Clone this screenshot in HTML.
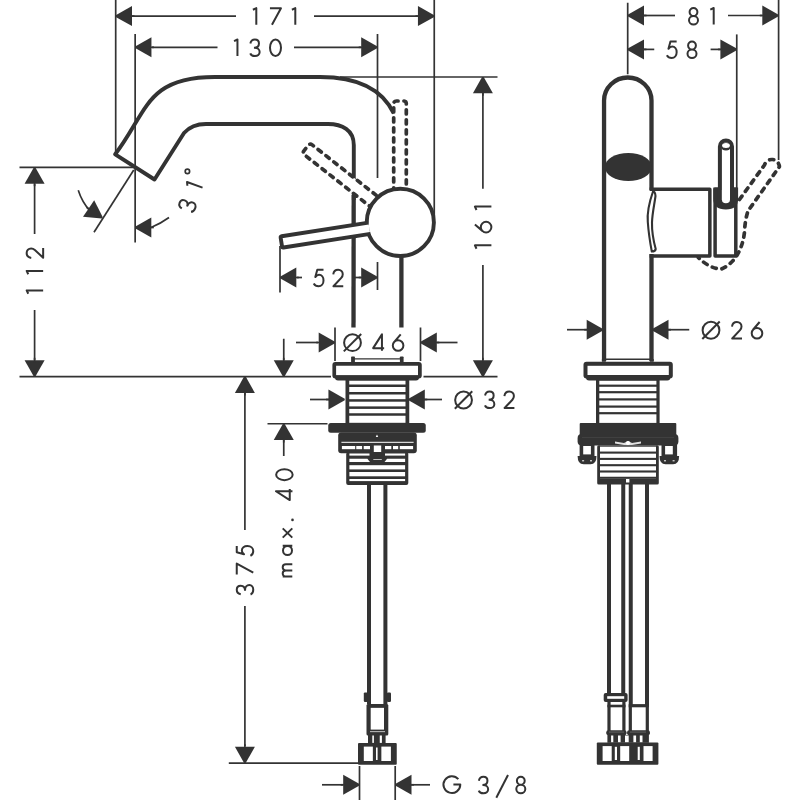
<!DOCTYPE html>
<html><head><meta charset="utf-8"><style>
html,body{margin:0;padding:0;background:#fff;width:800px;height:800px;overflow:hidden}
svg{display:block}
text{font-family:"Liberation Sans",sans-serif;fill:#333;stroke:none}
</style></head><body>
<svg width="800" height="800" viewBox="0 0 800 800">
<rect x="0" y="0" width="800" height="800" fill="#fff"/>
<g stroke="#333" fill="none" stroke-linecap="butt" stroke-linejoin="round">
<line x1="115.7" y1="0" x2="115.7" y2="153" stroke-width="1.7"/>
<line x1="434.25" y1="0" x2="434.25" y2="220" stroke-width="1.7"/>
<polygon fill="#333" stroke="none" points="115.70,15.30 115.70,16.90 132.00,26.10 132.00,6.10"/>
<line x1="130.00" y1="16.10" x2="134.50" y2="16.10" stroke-width="1.7"/>
<polygon fill="#333" stroke="none" points="434.25,16.90 434.25,15.30 417.95,6.10 417.95,26.10"/>
<line x1="419.95" y1="16.10" x2="415.45" y2="16.10" stroke-width="1.7"/>
<line x1="132" y1="16.1" x2="236" y2="16.1" stroke-width="1.7"/>
<line x1="314" y1="16.1" x2="418" y2="16.1" stroke-width="1.7"/>
<path transform="translate(254.6,16.4) translate(-2.7,-9.25)" d="M1,2.6 L4.4,1 L4.4,17.5" fill="none" stroke-width="2" stroke-linejoin="round"/>
<path transform="translate(275.45,16.4) translate(-6.5,-9.25)" d="M1,1 L12,1 L3,17.5" fill="none" stroke-width="2" stroke-linejoin="round"/>
<path transform="translate(293.6,16.4) translate(-2.7,-9.25)" d="M1,2.6 L4.4,1 L4.4,17.5" fill="none" stroke-width="2" stroke-linejoin="round"/>
<line x1="135.15" y1="34" x2="135.15" y2="242.5" stroke-width="1.7"/>
<line x1="377.5" y1="34" x2="377.5" y2="178" stroke-width="1.7"/>
<polygon fill="#333" stroke="none" points="135.15,46.50 135.15,48.10 151.45,57.30 151.45,37.30"/>
<line x1="149.45" y1="47.30" x2="153.95" y2="47.30" stroke-width="1.7"/>
<polygon fill="#333" stroke="none" points="377.50,48.10 377.50,46.50 361.20,37.30 361.20,57.30"/>
<line x1="363.20" y1="47.30" x2="358.70" y2="47.30" stroke-width="1.7"/>
<line x1="152" y1="47.3" x2="217.5" y2="47.3" stroke-width="1.7"/>
<line x1="294" y1="47.3" x2="361" y2="47.3" stroke-width="1.7"/>
<path transform="translate(235.75,47.75) translate(-2.7,-9.25)" d="M1,2.6 L4.4,1 L4.4,17.5" fill="none" stroke-width="2" stroke-linejoin="round"/>
<path transform="translate(255,47.75) translate(-5.65,-9.25)" d="M1,5 C1.5,2.5 3.2,1 5.5,1 C7.9,1 9.6,2.7 9.6,5 C9.6,7.6 7.6,9.3 4.6,9.3 M5.2,9.3 C8.2,9.3 10.3,11.1 10.3,13.6 C10.3,15.9 8.3,17.5 5.6,17.5 C3.3,17.5 1.5,16.4 0.9,14.8" fill="none" stroke-width="2" stroke-linejoin="round"/>
<path transform="translate(275.5,47.75) translate(-6.5,-9.25)" d="M1.0,9.25 A5.5,8.25 0 1 0 12.0,9.25 A5.5,8.25 0 1 0 1.0,9.25 Z" fill="none" stroke-width="2" stroke-linejoin="round"/>
<line x1="19.5" y1="167.4" x2="135" y2="167.4" stroke-width="1.7"/>
<line x1="19.5" y1="376.6" x2="331" y2="376.6" stroke-width="1.7"/>
<polygon fill="#333" stroke="none" points="35.40,167.40 33.80,167.40 24.60,183.70 44.60,183.70"/>
<line x1="34.60" y1="181.70" x2="34.60" y2="186.20" stroke-width="1.7"/>
<polygon fill="#333" stroke="none" points="33.80,376.60 35.40,376.60 44.60,360.30 24.60,360.30"/>
<line x1="34.60" y1="362.30" x2="34.60" y2="357.80" stroke-width="1.7"/>
<line x1="34.6" y1="184" x2="34.6" y2="234" stroke-width="1.7"/>
<line x1="34.6" y1="310" x2="34.6" y2="360" stroke-width="1.7"/>
<path transform="translate(34.9,292.1) rotate(-90) translate(-2.7,-9.25)" d="M1,2.6 L4.4,1 L4.4,17.5" fill="none" stroke-width="2" stroke-linejoin="round"/>
<path transform="translate(34.9,272.6) rotate(-90) translate(-2.7,-9.25)" d="M1,2.6 L4.4,1 L4.4,17.5" fill="none" stroke-width="2" stroke-linejoin="round"/>
<path transform="translate(34.9,252.9) rotate(-90) translate(-6.0,-9.25)" d="M1,5.6 C1.4,2.7 3.4,1 5.9,1 C8.5,1 10.5,2.9 10.5,5.5 C10.5,7 9.9,8.2 9,9.2 L1.2,17.5 L11,17.5" fill="none" stroke-width="2" stroke-linejoin="round"/>
<line x1="133.75" y1="170" x2="94" y2="232.3" stroke-width="1.7"/>
<path d="M78.25,190.3 Q82,202 90,211" stroke-width="1.7" fill="none" />
<polygon fill="#333" stroke="none" points="101.85,218.46 102.75,217.14 94.21,200.28 83.03,216.86"/>
<line x1="90.28" y1="209.69" x2="86.55" y2="207.18" stroke-width="1.7"/>
<path d="M151,227.5 Q160,224 169,217.5" stroke-width="1.7" fill="none" />
<polygon fill="#333" stroke="none" points="135.00,226.70 135.00,228.30 151.30,237.50 151.30,217.50"/>
<line x1="149.30" y1="227.50" x2="153.80" y2="227.50" stroke-width="1.7"/>
<path transform="translate(187.4,205.5) rotate(-70) translate(-5.65,-9.25)" d="M1,5 C1.5,2.5 3.2,1 5.5,1 C7.9,1 9.6,2.7 9.6,5 C9.6,7.6 7.6,9.3 4.6,9.3 M5.2,9.3 C8.2,9.3 10.3,11.1 10.3,13.6 C10.3,15.9 8.3,17.5 5.6,17.5 C3.3,17.5 1.5,16.4 0.9,14.8" fill="none" stroke-width="2" stroke-linejoin="round"/>
<path transform="translate(194.2,186.4) rotate(-70) translate(-2.7,-9.25)" d="M1,2.6 L4.4,1 L4.4,17.5" fill="none" stroke-width="2" stroke-linejoin="round"/>
<circle cx="187.4" cy="171.4" r="2.2" fill="none" stroke-width="1.7"/>
<path d="M393.8,113.5 C385.2,95.3 366.5,77 320,77 L214.9,77 C145.8,77 147.6,111.9 115.2,154.3 L154.5,179.5 L184,133 Q192,124 206,124 L328,124 C342,124 353.8,130 353.8,145 L353.8,200" stroke-width="3.9" fill="none" />
<path d="M353.7,195 L353.5,327.5" stroke-width="4.3" fill="none" />
<line x1="340" y1="77" x2="497.5" y2="77" stroke-width="1.7"/>
<path d="M401.4,250 L401.4,327.5" stroke-width="4.3" fill="none" />
<polygon fill="#333" stroke="none" points="483.70,77.00 482.10,77.00 472.90,93.30 492.90,93.30"/>
<line x1="482.90" y1="91.30" x2="482.90" y2="95.80" stroke-width="1.7"/>
<polygon fill="#333" stroke="none" points="482.10,376.60 483.70,376.60 492.90,360.30 472.90,360.30"/>
<line x1="482.90" y1="362.30" x2="482.90" y2="357.80" stroke-width="1.7"/>
<line x1="482.9" y1="93" x2="482.9" y2="188.75" stroke-width="1.7"/>
<line x1="482.9" y1="265" x2="482.9" y2="360" stroke-width="1.7"/>
<line x1="423.5" y1="376.6" x2="497.5" y2="376.6" stroke-width="1.7"/>
<path transform="translate(483.15,247) rotate(-90) translate(-2.7,-9.25)" d="M1,2.6 L4.4,1 L4.4,17.5" fill="none" stroke-width="2" stroke-linejoin="round"/>
<path transform="translate(483.15,227.1) rotate(-90) translate(-6.3,-9.25)" d="M8.9,1 L2.28,8.75 M1.0,12.2 A5.3,5.3 0 1 0 11.6,12.2 A5.3,5.3 0 1 0 1.0,12.2 Z" fill="none" stroke-width="2" stroke-linejoin="round"/>
<path transform="translate(483.15,208.3) rotate(-90) translate(-2.7,-9.25)" d="M1,2.6 L4.4,1 L4.4,17.5" fill="none" stroke-width="2" stroke-linejoin="round"/>
<path d="M393.70,202.00 L393.70,103.80 Q393.70,101.00 396.50,101.00 L403.50,101.00 Q406.30,101.00 406.30,103.80 L406.30,202.00" fill="#fff" stroke-width="3.7" stroke-dasharray="4.2,5.8" stroke-linecap="round"/>
<path d="M380.39,214.58 L304.39,154.78 Q302.19,153.05 303.93,150.85 L308.25,145.35 Q309.99,143.15 312.19,144.88 L388.18,204.68" fill="#fff" stroke-width="3.7" stroke-dasharray="4.2,5.8" stroke-linecap="round"/>
<circle cx="400.3" cy="222.4" r="33.6" fill="#fff" stroke-width="3.9"/>
<path d="M370.26,233.93 L283.41,247.53 Q282.23,247.71 282.04,246.53 L280.65,237.63 Q280.46,236.45 281.65,236.26 L368.49,222.66" fill="#fff" stroke-width="3.9" stroke-linejoin="round"/>
<line x1="280" y1="246" x2="280" y2="292.5" stroke-width="1.7"/>
<line x1="377.5" y1="262" x2="377.5" y2="290" stroke-width="1.7"/>
<polygon fill="#333" stroke="none" points="280.00,276.70 280.00,278.30 296.30,287.50 296.30,267.50"/>
<line x1="294.30" y1="277.50" x2="298.80" y2="277.50" stroke-width="1.7"/>
<polygon fill="#333" stroke="none" points="377.50,278.30 377.50,276.70 361.20,267.50 361.20,287.50"/>
<line x1="363.20" y1="277.50" x2="358.70" y2="277.50" stroke-width="1.7"/>
<line x1="297" y1="277.5" x2="302" y2="277.5" stroke-width="1.7"/>
<line x1="355" y1="277.5" x2="361" y2="277.5" stroke-width="1.7"/>
<path transform="translate(318.6,278) translate(-5.9,-9.25)" d="M10.8,1 L4.6,1 L2.6,8.3 C3.6,6.9 4.9,6.1 6.3,6.1 C9,6.1 10.8,8.4 10.8,11.7 C10.8,15.1 8.7,17.5 5.9,17.5 C3.6,17.5 1.9,16.3 1,14.7" fill="none" stroke-width="2" stroke-linejoin="round"/>
<path transform="translate(338.25,278) translate(-6.0,-9.25)" d="M1,5.6 C1.4,2.7 3.4,1 5.9,1 C8.5,1 10.5,2.9 10.5,5.5 C10.5,7 9.9,8.2 9,9.2 L1.2,17.5 L11,17.5" fill="none" stroke-width="2" stroke-linejoin="round"/>
<line x1="335" y1="327.5" x2="335" y2="361" stroke-width="1.7"/>
<line x1="420.5" y1="327.5" x2="420.5" y2="361" stroke-width="1.7"/>
<polygon fill="#333" stroke="none" points="335.00,343.30 335.00,341.70 318.70,332.50 318.70,352.50"/>
<line x1="320.70" y1="342.50" x2="316.20" y2="342.50" stroke-width="1.7"/>
<polygon fill="#333" stroke="none" points="420.50,341.70 420.50,343.30 436.80,352.50 436.80,332.50"/>
<line x1="434.80" y1="342.50" x2="439.30" y2="342.50" stroke-width="1.7"/>
<line x1="296" y1="342.5" x2="318" y2="342.5" stroke-width="1.7"/>
<line x1="437" y1="342.5" x2="457.5" y2="342.5" stroke-width="1.7"/>
<circle cx="352.5" cy="342.7" r="8.4" fill="none" stroke-width="2"/><line x1="343.8" y1="351.4" x2="361.2" y2="334.0" stroke-width="2"/>
<path transform="translate(378.65,342.6) translate(-6.5,-9.25)" d="M9.8,17.5 L9.8,1 L1,14.8 L12,14.8" fill="none" stroke-width="2" stroke-linejoin="round"/>
<path transform="translate(398.1,342.6) translate(-6.3,-9.25)" d="M8.9,1 L2.28,8.75 M1.0,12.2 A5.3,5.3 0 1 0 11.6,12.2 A5.3,5.3 0 1 0 1.0,12.2 Z" fill="none" stroke-width="2" stroke-linejoin="round"/>
<line x1="283.75" y1="338.75" x2="283.75" y2="360" stroke-width="1.7"/>
<polygon fill="#333" stroke="none" points="282.95,376.60 284.55,376.60 293.75,360.30 273.75,360.30"/>
<line x1="283.75" y1="362.30" x2="283.75" y2="357.80" stroke-width="1.7"/>
<line x1="267.5" y1="423.75" x2="327.5" y2="423.75" stroke-width="1.7"/>
<polygon fill="#333" stroke="none" points="284.55,423.75 282.95,423.75 273.75,440.05 293.75,440.05"/>
<line x1="283.75" y1="438.05" x2="283.75" y2="442.55" stroke-width="1.7"/>
<line x1="283.75" y1="440" x2="283.75" y2="456" stroke-width="1.7"/>
<path transform="translate(284.4,474.65) rotate(-90) translate(-6.5,-9.25)" d="M1.0,9.25 A5.5,8.25 0 1 0 12.0,9.25 A5.5,8.25 0 1 0 1.0,9.25 Z" fill="none" stroke-width="2" stroke-linejoin="round"/>
<path transform="translate(284.2,494.55) rotate(-90) translate(-6.5,-9.25)" d="M9.8,17.5 L9.8,1 L1,14.8 L12,14.8" fill="none" stroke-width="2" stroke-linejoin="round"/>
<path transform="translate(287.5,533) rotate(-90) translate(-5.6,-5.8)" d="M1,1 L10.2,10.6 M10.2,1 L1,10.6" fill="none" stroke-width="2" stroke-linejoin="round"/>
<path transform="translate(287.5,550.4) rotate(-90) translate(-5.6,-5.8)" d="M1.0,5.8 A4.5,4.5 0 1 0 10.0,5.8 A4.5,4.5 0 1 0 1.0,5.8 Z M10.2,1 L10.2,10.6" fill="none" stroke-width="2" stroke-linejoin="round"/>
<path transform="translate(287.5,570.4) rotate(-90) translate(-7.15,-5.8)" d="M1,1 L1,10.6 M1,4.2 C1,2.2 2.2,1 4,1 C5.8,1 7.1,2.2 7.1,4.2 L7.1,10.6 M7.1,4.2 C7.1,2.2 8.4,1 10.2,1 C12,1 13.3,2.2 13.3,4.2 L13.3,10.6" fill="none" stroke-width="2" stroke-linejoin="round"/>
<circle cx="292.5" cy="519.9" r="1.3" fill="#333" stroke="none"/>
<polygon fill="#333" stroke="none" points="245.70,376.60 244.10,376.60 234.90,392.90 254.90,392.90"/>
<line x1="244.90" y1="390.90" x2="244.90" y2="395.40" stroke-width="1.7"/>
<line x1="244.9" y1="393" x2="244.9" y2="530" stroke-width="1.7"/>
<line x1="244.9" y1="606" x2="244.9" y2="746" stroke-width="1.7"/>
<polygon fill="#333" stroke="none" points="244.10,763.10 245.70,763.10 254.90,746.80 234.90,746.80"/>
<line x1="244.90" y1="748.80" x2="244.90" y2="744.30" stroke-width="1.7"/>
<line x1="228.8" y1="763.1" x2="358" y2="763.1" stroke-width="1.7"/>
<path transform="translate(245,589.7) rotate(-90) translate(-5.65,-9.25)" d="M1,5 C1.5,2.5 3.2,1 5.5,1 C7.9,1 9.6,2.7 9.6,5 C9.6,7.6 7.6,9.3 4.6,9.3 M5.2,9.3 C8.2,9.3 10.3,11.1 10.3,13.6 C10.3,15.9 8.3,17.5 5.6,17.5 C3.3,17.5 1.5,16.4 0.9,14.8" fill="none" stroke-width="2" stroke-linejoin="round"/>
<path transform="translate(245,569.1) rotate(-90) translate(-6.5,-9.25)" d="M1,1 L12,1 L3,17.5" fill="none" stroke-width="2" stroke-linejoin="round"/>
<path transform="translate(245,551) rotate(-90) translate(-5.9,-9.25)" d="M10.8,1 L4.6,1 L2.6,8.3 C3.6,6.9 4.9,6.1 6.3,6.1 C9,6.1 10.8,8.4 10.8,11.7 C10.8,15.1 8.7,17.5 5.9,17.5 C3.6,17.5 1.9,16.3 1,14.7" fill="none" stroke-width="2" stroke-linejoin="round"/>
<polygon fill="#333" stroke="none" points="344.75,400.30 344.75,398.70 328.45,389.50 328.45,409.50"/>
<line x1="330.45" y1="399.50" x2="325.95" y2="399.50" stroke-width="1.7"/>
<line x1="310" y1="399.5" x2="331" y2="399.5" stroke-width="1.7"/>
<polygon fill="#333" stroke="none" points="408.50,398.70 408.50,400.30 424.80,409.50 424.80,389.50"/>
<line x1="422.80" y1="399.50" x2="427.30" y2="399.50" stroke-width="1.7"/>
<line x1="424" y1="399.5" x2="442" y2="399.5" stroke-width="1.7"/>
<circle cx="463.55" cy="400" r="8.4" fill="none" stroke-width="2"/><line x1="454.85" y1="408.7" x2="472.25" y2="391.3" stroke-width="2"/>
<path transform="translate(489.7,399.8) translate(-5.65,-9.25)" d="M1,5 C1.5,2.5 3.2,1 5.5,1 C7.9,1 9.6,2.7 9.6,5 C9.6,7.6 7.6,9.3 4.6,9.3 M5.2,9.3 C8.2,9.3 10.3,11.1 10.3,13.6 C10.3,15.9 8.3,17.5 5.6,17.5 C3.3,17.5 1.5,16.4 0.9,14.8" fill="none" stroke-width="2" stroke-linejoin="round"/>
<path transform="translate(509.4,399.8) translate(-6.0,-9.25)" d="M1,5.6 C1.4,2.7 3.4,1 5.9,1 C8.5,1 10.5,2.9 10.5,5.5 C10.5,7 9.9,8.2 9,9.2 L1.2,17.5 L11,17.5" fill="none" stroke-width="2" stroke-linejoin="round"/>
<line x1="359.5" y1="766" x2="359.5" y2="800" stroke-width="1.7"/>
<line x1="395.2" y1="766" x2="395.2" y2="800" stroke-width="1.7"/>
<polygon fill="#333" stroke="none" points="359.50,785.60 359.50,784.00 343.20,774.80 343.20,794.80"/>
<line x1="345.20" y1="784.80" x2="340.70" y2="784.80" stroke-width="1.7"/>
<line x1="322" y1="784.8" x2="343" y2="784.8" stroke-width="1.7"/>
<polygon fill="#333" stroke="none" points="395.20,784.00 395.20,785.60 411.50,794.80 411.50,774.80"/>
<line x1="409.50" y1="784.80" x2="414.00" y2="784.80" stroke-width="1.7"/>
<line x1="411" y1="784.8" x2="430" y2="784.8" stroke-width="1.7"/>
<path transform="translate(451.9,784.6) translate(-9.4,-9.4)" d="M15.83,4.00 A8.4,8.4 0 1 0 17.8,9.4 L10.9,9.4" fill="none" stroke-width="2" stroke-linejoin="round"/>
<path transform="translate(483.5,785) translate(-5.65,-9.25)" d="M1,5 C1.5,2.5 3.2,1 5.5,1 C7.9,1 9.6,2.7 9.6,5 C9.6,7.6 7.6,9.3 4.6,9.3 M5.2,9.3 C8.2,9.3 10.3,11.1 10.3,13.6 C10.3,15.9 8.3,17.5 5.6,17.5 C3.3,17.5 1.5,16.4 0.9,14.8" fill="none" stroke-width="2" stroke-linejoin="round"/>
<path transform="translate(502.15,786.35) translate(-6.85,-12.35)" d="M1,23.7 L12.7,1" fill="none" stroke-width="2" stroke-linejoin="round"/>
<path transform="translate(520.8,785) translate(-5.5,-9.25)" d="M1.6,5.0 A3.9,4.0 0 1 0 9.4,5.0 A3.9,4.0 0 1 0 1.6,5.0 Z M1.0,13.25 A4.5,4.25 0 1 0 10.0,13.25 A4.5,4.25 0 1 0 1.0,13.25 Z" fill="none" stroke-width="2" stroke-linejoin="round"/>
<rect x="351.1" y="356.4" width="3.80" height="6.20" rx="0.8" fill="#333" stroke="none"/>
<rect x="399.9" y="356.4" width="3.70" height="6.20" rx="0.8" fill="#333" stroke="none"/>
<line x1="354" y1="358.9" x2="401" y2="358.9" stroke-width="1.4"/>
<rect x="332.4" y="362" width="89.35" height="16.50" rx="3" fill="#333" stroke="none"/>
<rect x="335" y="372" width="84.00" height="8.60" rx="3" fill="#333" stroke="none"/>
<rect x="336.1" y="365.75" width="81.90" height="9.35" rx="0" fill="#fff" stroke="none"/>
<rect x="345.5" y="380" width="63.75" height="43.00" rx="0" fill="#333" stroke="none"/>
<rect x="349.25" y="380.75" width="56.25" height="42.05" rx="0" fill="#fff" stroke="none"/>
<rect x="349" y="384.5" width="57.00" height="2.50" rx="0" fill="#333" stroke="none"/>
<rect x="349" y="392.0" width="57.00" height="2.50" rx="0" fill="#333" stroke="none"/>
<rect x="349" y="399.2" width="57.00" height="2.50" rx="0" fill="#333" stroke="none"/>
<rect x="349" y="406.4" width="57.00" height="2.50" rx="0" fill="#333" stroke="none"/>
<rect x="349" y="413.25" width="57.00" height="2.50" rx="0" fill="#333" stroke="none"/>
<rect x="328.25" y="423" width="97.50" height="9.75" rx="2.5" fill="#333" stroke="none"/>
<rect x="338.2" y="432.5" width="78.60" height="20.70" rx="3" fill="#333" stroke="none"/>
<polygon points="375.8,437 377,434.6 378.2,437" fill="#fff" stroke="none"/>
<rect x="341.4" y="441.8" width="72.20" height="1.00" rx="0" fill="#fff" stroke="none"/>
<rect x="341.9" y="446" width="13.30" height="3.20" rx="0" fill="#fff" stroke="none"/>
<rect x="356.25" y="446" width="5.85" height="3.20" rx="0" fill="#fff" stroke="none"/>
<rect x="363.7" y="446" width="6.30" height="3.20" rx="0" fill="#fff" stroke="none"/>
<rect x="385" y="446" width="6.30" height="3.20" rx="0" fill="#fff" stroke="none"/>
<rect x="393" y="446" width="5.20" height="3.20" rx="0" fill="#fff" stroke="none"/>
<rect x="399.8" y="446" width="13.30" height="3.20" rx="0" fill="#fff" stroke="none"/>
<rect x="373.8" y="445.5" width="7.40" height="7.10" rx="0" fill="#fff" stroke="none"/>
<rect x="346.2" y="452" width="62.10" height="33.00" rx="2" fill="#333" stroke="none"/>
<rect x="349.4" y="453.5" width="20.10" height="2.10" rx="0" fill="#fff" stroke="none"/>
<rect x="385" y="453.5" width="20.10" height="2.10" rx="0" fill="#fff" stroke="none"/>
<polygon points="349.4,458.8 367.4,458.8 370,462 349.4,462" fill="#fff" stroke="none"/>
<polygon points="405.1,458.8 387.1,458.8 384.5,462 405.1,462" fill="#fff" stroke="none"/>
<rect x="373.3" y="459.2" width="8.50" height="0.70" rx="0" fill="#fff" stroke="none"/>
<rect x="349.4" y="465.2" width="55.70" height="4.20" rx="0" fill="#fff" stroke="none"/>
<rect x="349.4" y="472" width="55.70" height="4.30" rx="0" fill="#fff" stroke="none"/>
<rect x="349.4" y="479" width="55.70" height="2.10" rx="0" fill="#fff" stroke="none"/>
<rect x="367" y="485" width="4.00" height="219.50" rx="0" fill="#333" stroke="none"/>
<rect x="383.4" y="485" width="4.00" height="219.50" rx="0" fill="#333" stroke="none"/>
<rect x="363.8" y="692.4" width="4.00" height="9.60" rx="1.2" fill="#333" stroke="none"/>
<rect x="386.9" y="692.4" width="4.10" height="9.60" rx="1.2" fill="#333" stroke="none"/>
<rect x="366.5" y="704" width="21.80" height="31.50" rx="1.5" fill="#333" stroke="none"/>
<rect x="370.7" y="707.85" width="13.30" height="21.75" rx="0" fill="#fff" stroke="none"/>
<rect x="370" y="731.4" width="15.00" height="0.70" rx="0" fill="#fff" stroke="none"/>
<rect x="368" y="735" width="17.60" height="8.50" rx="0" fill="#333" stroke="none"/>
<rect x="372.3" y="735.5" width="1.60" height="7.40" rx="0" fill="#fff" stroke="none"/>
<rect x="379.75" y="735.5" width="2.15" height="7.40" rx="0" fill="#fff" stroke="none"/>
<rect x="358" y="742.9" width="38.75" height="21.80" rx="1" fill="#333" stroke="none"/>
<rect x="363.8" y="746.6" width="9.05" height="14.40" rx="0" fill="#fff" stroke="none"/>
<rect x="381.35" y="746.6" width="9.55" height="14.40" rx="0" fill="#fff" stroke="none"/>
<rect x="376" y="747.5" width="1.60" height="12.50" rx="0" fill="#fff" stroke="none"/>
<line x1="627.7" y1="2.75" x2="627.7" y2="74.25" stroke-width="1.7"/>
<line x1="778.6" y1="0" x2="778.6" y2="160" stroke-width="1.7"/>
<polygon fill="#333" stroke="none" points="627.70,14.70 627.70,16.30 644.00,25.50 644.00,5.50"/>
<line x1="642.00" y1="15.50" x2="646.50" y2="15.50" stroke-width="1.7"/>
<polygon fill="#333" stroke="none" points="778.60,16.30 778.60,14.70 762.30,5.50 762.30,25.50"/>
<line x1="764.30" y1="15.50" x2="759.80" y2="15.50" stroke-width="1.7"/>
<line x1="644" y1="15.5" x2="675" y2="15.5" stroke-width="1.7"/>
<line x1="728" y1="15.5" x2="762" y2="15.5" stroke-width="1.7"/>
<path transform="translate(693.5,16.25) translate(-5.5,-9.25)" d="M1.6,5.0 A3.9,4.0 0 1 0 9.4,5.0 A3.9,4.0 0 1 0 1.6,5.0 Z M1.0,13.25 A4.5,4.25 0 1 0 10.0,13.25 A4.5,4.25 0 1 0 1.0,13.25 Z" fill="none" stroke-width="2" stroke-linejoin="round"/>
<path transform="translate(712,16.25) translate(-2.7,-9.25)" d="M1,2.6 L4.4,1 L4.4,17.5" fill="none" stroke-width="2" stroke-linejoin="round"/>
<line x1="736.75" y1="34.4" x2="736.75" y2="189" stroke-width="1.7"/>
<polygon fill="#333" stroke="none" points="627.70,48.60 627.70,50.20 644.00,59.40 644.00,39.40"/>
<line x1="642.00" y1="49.40" x2="646.50" y2="49.40" stroke-width="1.7"/>
<polygon fill="#333" stroke="none" points="736.70,50.20 736.70,48.60 720.40,39.40 720.40,59.40"/>
<line x1="722.40" y1="49.40" x2="717.90" y2="49.40" stroke-width="1.7"/>
<line x1="644" y1="49.4" x2="654.25" y2="49.4" stroke-width="1.7"/>
<line x1="710.6" y1="49.4" x2="720.5" y2="49.4" stroke-width="1.7"/>
<path transform="translate(671.75,49.75) translate(-5.9,-9.25)" d="M10.8,1 L4.6,1 L2.6,8.3 C3.6,6.9 4.9,6.1 6.3,6.1 C9,6.1 10.8,8.4 10.8,11.7 C10.8,15.1 8.7,17.5 5.9,17.5 C3.6,17.5 1.9,16.3 1,14.7" fill="none" stroke-width="2" stroke-linejoin="round"/>
<path transform="translate(692,49.75) translate(-5.5,-9.25)" d="M1.6,5.0 A3.9,4.0 0 1 0 9.4,5.0 A3.9,4.0 0 1 0 1.6,5.0 Z M1.0,13.25 A4.5,4.25 0 1 0 10.0,13.25 A4.5,4.25 0 1 0 1.0,13.25 Z" fill="none" stroke-width="2" stroke-linejoin="round"/>
<path d="M604.05,361 L604.05,100.5 A23.72,23 0 0 1 651.5,100.5 L651.5,190 M651.5,254 L651.5,361" stroke-width="4.3" fill="none" />
<ellipse cx="628.3" cy="167" rx="23.4" ry="14.1" fill="#333" stroke="none"/>
<path d="M649.6,189.2 L709.85,189.2 L709.85,256.1 L649.6,256.1" stroke-width="3.5" fill="none" />
<rect x="715.1" y="189.2" width="20.7" height="66.9" fill="#fff" stroke-width="3.5"/>
<path d="M653,191.5 C649,203 647,213 647.8,222 C648.5,232 650,242 651.8,251.5 C653.5,251.5 655.5,250.5 655.7,249 C653.5,241 651.8,232 652,222.5 C652.3,213 654.5,204 655.5,196 C655.3,193 654.3,191.5 653,191.5 Z" fill="#fff" stroke-width="2.1"/>
<path d="M713.3,187.5 L713.3,199 Q713.3,209.4 725.9,209.4 Q738.1,209.4 738.1,199 L738.1,187.5 Z" fill="#333" stroke="none"/>
<path d="M719.9,200 L719.9,146.5 A6.05,6.05 0 0 1 732,146.5 L732,200" fill="#fff" stroke-width="4"/>
<path d="M721.9,190 L721.9,199.5 Q721.9,203.3 725.9,203.3 Q730,203.3 730,199.5 L730,190 Z" fill="#fff" stroke="none"/>
<ellipse cx="725.95" cy="146.4" rx="5.2" ry="4" fill="#333" stroke="none"/>
<ellipse cx="726" cy="145.4" rx="3.9" ry="2.5" fill="#fff" stroke="none"/>
<path d="M739.5,199.5 L764.5,165 A7.6,7.6 0 0 1 779.4,166.7 L748,211 Q745,220 744.5,232 Q743,246 736,257 Q729,266 721.5,268.9 Q710,269 698.3,257.5" fill="none" stroke-width="3.7" stroke-dasharray="4.2,5.8" stroke-linecap="round"/>
<polygon fill="#333" stroke="none" points="603.00,330.50 603.00,328.90 586.70,319.70 586.70,339.70"/>
<line x1="588.70" y1="329.70" x2="584.20" y2="329.70" stroke-width="1.7"/>
<line x1="567" y1="329.7" x2="587" y2="329.7" stroke-width="1.7"/>
<polygon fill="#333" stroke="none" points="652.20,328.90 652.20,330.50 668.50,339.70 668.50,319.70"/>
<line x1="666.50" y1="329.70" x2="671.00" y2="329.70" stroke-width="1.7"/>
<line x1="668" y1="329.7" x2="689.25" y2="329.7" stroke-width="1.7"/>
<circle cx="711" cy="330.25" r="8.4" fill="none" stroke-width="2"/><line x1="702.3" y1="338.95" x2="719.7" y2="321.55" stroke-width="2"/>
<path transform="translate(737,330.25) translate(-6.0,-9.25)" d="M1,5.6 C1.4,2.7 3.4,1 5.9,1 C8.5,1 10.5,2.9 10.5,5.5 C10.5,7 9.9,8.2 9,9.2 L1.2,17.5 L11,17.5" fill="none" stroke-width="2" stroke-linejoin="round"/>
<path transform="translate(757,330.25) translate(-6.3,-9.25)" d="M8.9,1 L2.28,8.75 M1.0,12.2 A5.3,5.3 0 1 0 11.6,12.2 A5.3,5.3 0 1 0 1.0,12.2 Z" fill="none" stroke-width="2" stroke-linejoin="round"/>
<rect x="601.9" y="359" width="3.90" height="2.80" rx="0" fill="#333" stroke="none"/>
<rect x="649.8" y="359" width="3.90" height="2.80" rx="0" fill="#333" stroke="none"/>
<line x1="605" y1="359.2" x2="650.5" y2="359.2" stroke-width="1.4"/>
<rect x="583.5" y="361.8" width="89.30" height="16.70" rx="3" fill="#333" stroke="none"/>
<rect x="586" y="372" width="84.30" height="8.60" rx="3" fill="#333" stroke="none"/>
<rect x="587.5" y="365.8" width="81.30" height="9.20" rx="0" fill="#fff" stroke="none"/>
<rect x="596" y="380" width="63.60" height="43.00" rx="0" fill="#333" stroke="none"/>
<rect x="599.3" y="380.8" width="57.10" height="42.10" rx="0" fill="#fff" stroke="none"/>
<rect x="599" y="384.59999999999997" width="58.00" height="2.20" rx="0" fill="#333" stroke="none"/>
<rect x="599" y="391.09999999999997" width="58.00" height="2.20" rx="0" fill="#333" stroke="none"/>
<rect x="599" y="398.29999999999995" width="58.00" height="2.20" rx="0" fill="#333" stroke="none"/>
<rect x="599" y="405.5" width="58.00" height="2.20" rx="0" fill="#333" stroke="none"/>
<rect x="599" y="412.09999999999997" width="58.00" height="2.20" rx="0" fill="#333" stroke="none"/>
<rect x="579.7" y="422.9" width="96.60" height="14.10" rx="1" fill="#333" stroke="none"/>
<rect x="577.6" y="434.1" width="100.80" height="11.50" rx="4" fill="#333" stroke="none"/>
<rect x="582" y="437.3" width="92.00" height="0.60" rx="0" fill="#4a4a4a" stroke="none"/>
<rect x="600" y="445.3" width="56.00" height="1.40" rx="0" fill="#fff" stroke="none"/>
<path d="M615,441.5 L624,443 L628,441 L632,443 L641,441.5 L641,443.5 L632,445 L628,446 L624,445 L615,443.5 Z" fill="#fff" stroke="none" opacity="0.85"/>
<circle cx="628" cy="443" r="2" fill="#fff" stroke="none"/>
<rect x="579.6" y="444" width="14.90" height="14.00" rx="0" fill="#333" stroke="none"/>
<rect x="583.2" y="446" width="7.70" height="8.40" rx="0" fill="#fff" stroke="none"/>
<path d="M577.6,456 L596.5,456 Q596.5,464.2 590.5,464.2 L583.6,464.2 Q577.6,464.2 577.6,456 Z" fill="#333" stroke="none"/>
<rect x="582.1" y="460.3" width="2.00" height="1.00" rx="0" fill="#fff" stroke="none"/>
<rect x="590.0" y="460.3" width="2.00" height="1.00" rx="0" fill="#fff" stroke="none"/>
<rect x="661.5" y="444" width="15.60" height="14.00" rx="0" fill="#333" stroke="none"/>
<rect x="665.1" y="446" width="7.70" height="8.40" rx="0" fill="#fff" stroke="none"/>
<path d="M659.5,456 L679.1,456 Q679.1,464.2 673.1,464.2 L665.5,464.2 Q659.5,464.2 659.5,456 Z" fill="#333" stroke="none"/>
<rect x="664.0" y="460.3" width="2.00" height="1.00" rx="0" fill="#fff" stroke="none"/>
<rect x="672.6" y="460.3" width="2.00" height="1.00" rx="0" fill="#fff" stroke="none"/>
<rect x="597.2" y="445.3" width="61.60" height="39.20" rx="1.5" fill="#333" stroke="none"/>
<rect x="600" y="446.7" width="56.00" height="32.20" rx="0" fill="#fff" stroke="none"/>
<rect x="600" y="451.55" width="56.00" height="2.10" rx="0" fill="#333" stroke="none"/>
<rect x="600" y="457.84999999999997" width="56.00" height="2.10" rx="0" fill="#333" stroke="none"/>
<rect x="600" y="464.15" width="56.00" height="2.10" rx="0" fill="#333" stroke="none"/>
<rect x="600" y="470.45" width="56.00" height="2.10" rx="0" fill="#333" stroke="none"/>
<rect x="600" y="476.75" width="56.00" height="2.10" rx="0" fill="#333" stroke="none"/>
<rect x="626" y="479" width="3.40" height="3.50" rx="0" fill="#fff" stroke="none"/>
<rect x="607" y="484" width="4.00" height="209.00" rx="0" fill="#333" stroke="none"/>
<rect x="621.25" y="484" width="4.00" height="209.00" rx="0" fill="#333" stroke="none"/>
<rect x="628.75" y="484" width="4.00" height="221.00" rx="0" fill="#333" stroke="none"/>
<rect x="645" y="484" width="4.00" height="221.00" rx="0" fill="#333" stroke="none"/>
<rect x="603.7" y="693" width="23.90" height="9.00" rx="2" fill="#333" stroke="none"/>
<rect x="607.2" y="696.2" width="17.00" height="2.60" rx="0" fill="#fff" stroke="none"/>
<rect x="607.4" y="702" width="3.20" height="29.00" rx="0" fill="#333" stroke="none"/>
<rect x="622.3" y="702" width="3.20" height="29.00" rx="0" fill="#333" stroke="none"/>
<rect x="607.4" y="704.7" width="18.10" height="2.60" rx="0" fill="#333" stroke="none"/>
<rect x="628.7" y="704.1" width="20.20" height="3.20" rx="0" fill="#333" stroke="none"/>
<rect x="628.7" y="705" width="3.20" height="26.00" rx="0" fill="#333" stroke="none"/>
<rect x="645.7" y="705" width="3.20" height="26.00" rx="0" fill="#333" stroke="none"/>
<rect x="606.3" y="730.2" width="20.20" height="5.00" rx="2" fill="#333" stroke="none"/>
<rect x="627.1" y="730.2" width="22.80" height="5.00" rx="2" fill="#333" stroke="none"/>
<rect x="609" y="731.7" width="15.00" height="0.70" rx="0" fill="#777" stroke="none"/>
<rect x="630" y="731.7" width="16.00" height="0.70" rx="0" fill="#777" stroke="none"/>
<rect x="607.4" y="735" width="41.50" height="7.80" rx="0" fill="#333" stroke="none"/>
<rect x="611.1" y="735.5" width="2.20" height="6.90" rx="0" fill="#fff" stroke="none"/>
<rect x="618" y="735.5" width="2.60" height="6.90" rx="0" fill="#fff" stroke="none"/>
<rect x="625" y="735.5" width="3.70" height="6.90" rx="0" fill="#fff" stroke="none"/>
<rect x="633.4" y="735.5" width="2.70" height="6.90" rx="0" fill="#fff" stroke="none"/>
<rect x="639.8" y="735.5" width="2.70" height="6.90" rx="0" fill="#fff" stroke="none"/>
<rect x="596.8" y="742.4" width="61.60" height="22.30" rx="1" fill="#333" stroke="none"/>
<rect x="602.6" y="746.1" width="9.10" height="14.90" rx="0" fill="#fff" stroke="none"/>
<rect x="620.2" y="746.1" width="9.00" height="14.90" rx="0" fill="#fff" stroke="none"/>
<rect x="643.5" y="746.1" width="9.10" height="14.90" rx="0" fill="#fff" stroke="none"/>
<rect x="614.8" y="746.8" width="2.20" height="13.20" rx="0" fill="#fff" stroke="none"/>
<rect x="637.7" y="746.8" width="2.10" height="13.20" rx="0" fill="#fff" stroke="none"/>
</g>
</svg>
</body></html>
